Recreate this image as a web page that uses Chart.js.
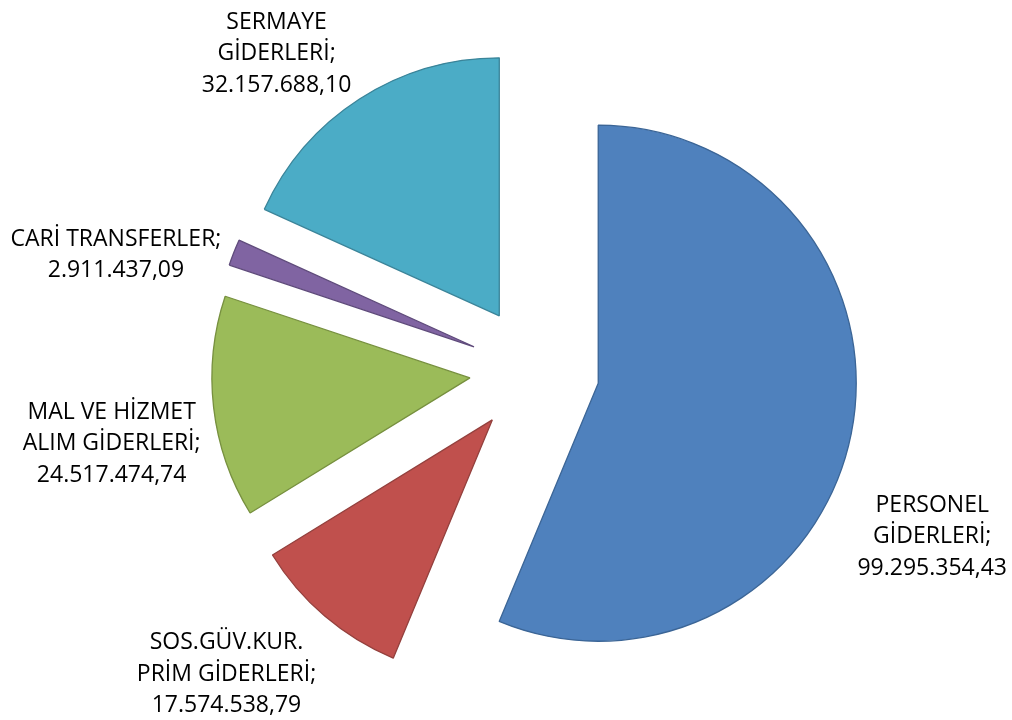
<!DOCTYPE html>
<html>
<head>
<meta charset="utf-8">
<script src="https://cdn.jsdelivr.net/npm/chart.js@4.4.0/dist/chart.umd.min.js"></script>
<style>
  html, body { margin: 0; padding: 0; background: #fff; }
</style>
</head>
<body>
<canvas id="giderler" width="1012" height="720"></canvas>
<script>
// Gider kalemleri, tepeden başlayıp saat yönünde
const kalemler = [
  ['PERSONEL', 'GİDERLERİ'],
  ['SOS.GÜV.KUR.', 'PRİM GİDERLERİ'],
  ['MAL VE HİZMET', 'ALIM GİDERLERİ'],
  ['CARİ TRANSFERLER'],
  ['SERMAYE', 'GİDERLERİ']
]
const tutarlar = [99295354.43, 17574538.79, 24517474.74, 2911437.09, 32157688.10]

// Renkler (dolgu ve kenar)
const renkler = ['#4F81BD', '#C0504D', '#9BBB59', '#8064A2', '#4BACC6']
const kenarRenkleri = ['#3B6596', '#94403D', '#77903F', '#5F4B7B', '#3A8499']

// Dilimlerin merkezden uzaklaşma miktarı (px) ve etiket yerleşimi
const patlama = 65
const etiketAciKaydir = [13.2, 5.9, -3.6, -6.8, -7.4]
const etiketUzaklik = [367, 367, 364, 370, 345]

// 99295354.43 -> '99.295.354,43'
const formatTL = (v) => {
  const [tam, kurus] = v.toFixed(2).split('.')
  return tam.replace(/\B(?=(\d{3})+(?!\d))/g, '.') + ',' + kurus
}

// Her dilimi kendi orta açısı yönünde dışarı kaydırır
const patlatPlugin = {
  id: 'patlat',
  afterDatasetUpdate(chart, args) {
    for (const arc of args.meta.data) {
      const orta = (arc.startAngle + arc.endAngle) / 2
      arc.x += Math.cos(orta) * patlama
      arc.y += Math.sin(orta) * patlama
    }
  }
}

// Dilim etiketleri: ad; tutar
const etiketPlugin = {
  id: 'etiketler',
  afterDatasetsDraw(chart) {
    const ctx = chart.ctx
    const arcs = chart.getDatasetMeta(0).data
    ctx.save()
    ctx.font = '23px "Open Sans"'
    ctx.fillStyle = '#000'
    ctx.textAlign = 'center'
    ctx.textBaseline = 'alphabetic'
    arcs.forEach((arc, i) => {
      const aci = (arc.startAngle + arc.endAngle) / 2 + etiketAciKaydir[i] * Math.PI / 180
      const cx = arc.x + Math.cos(aci) * etiketUzaklik[i]
      const cy = arc.y + Math.sin(aci) * etiketUzaklik[i]
      const satirlar = [...kalemler[i]]
      satirlar[satirlar.length - 1] += ';'
      satirlar.push(formatTL(tutarlar[i]))
      satirlar.forEach((s, k) => {
        const y = cy + (k - (satirlar.length - 1) / 2) * 31.5 + 8
        ctx.fillText(s, cx, y)
      })
    })
    ctx.restore()
  }
}

const chart = new Chart(document.getElementById('giderler'), {
  type: 'pie',
  data: {
    labels: kalemler,
    datasets: [{
      data: tutarlar,
      backgroundColor: renkler,
      borderColor: kenarRenkleri,
      borderWidth: 1.3,
      radius: 258
    }]
  },
  options: {
    responsive: false,
    animation: false,
    events: [],
    layout: { padding: { left: 57, top: 21, right: 0, bottom: 0 } },
    plugins: {
      legend: { display: false },
      tooltip: { enabled: false }
    }
  },
  plugins: [patlatPlugin, etiketPlugin]
})
</script>
</body>
</html>
